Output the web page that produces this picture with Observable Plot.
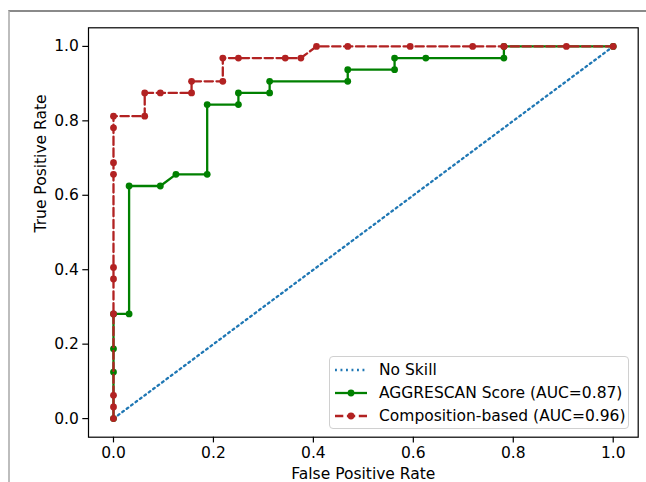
<!DOCTYPE html>
<html>
<head>
<meta charset="utf-8">
<script src="https://cdn.jsdelivr.net/npm/d3@7"></script>
<script src="https://cdn.jsdelivr.net/npm/@observablehq/plot@0.6"></script>
<style>
  html, body { margin: 0; padding: 0; background: white; }
  #wrap { position: relative; width: 646px; height: 482px; overflow: hidden; background: white; }
  #wrap > svg { position: absolute; left: 0; top: 0; }
  #border { position: absolute; left: 8px; top: 10px; width: 700px; height: 600px;
            border-top: 2px solid #8a8a8a; border-left: 2px solid #bdbdbd; pointer-events: none; }
  #legend { position: absolute; left: 329px; top: 356px; width: 298px; height: 71px;
            border: 1px solid #d0d0d0; border-radius: 4px; background: rgba(255,255,255,0.8);
            font-family: "DejaVu Sans", sans-serif; font-size: 15.5px; color: black; }
  .row { position: absolute; left: 5px; height: 22px; display: flex; align-items: center; white-space: nowrap; }
  .row svg { position: static; margin-right: 12px; }
</style>
</head>
<body>
<div id="wrap"><div id="border"></div></div>
<script>
// --- data ---
const noSkillFpr = [0, 1];
const noSkillTpr = [0, 1];

const aggrescanFpr = [0, 0, 0, 0, 0.03125, 0.03125, 0.09375, 0.125, 0.1875, 0.1875, 0.25, 0.25, 0.3125, 0.3125, 0.46875, 0.46875, 0.5625, 0.5625, 0.625, 0.78125, 0.78125, 1];
const aggrescanTpr = [0, 0.125, 0.1875, 0.28125, 0.28125, 0.625, 0.625, 0.65625, 0.65625, 0.84375, 0.84375, 0.875, 0.875, 0.90625, 0.90625, 0.9375, 0.9375, 0.96875, 0.96875, 0.96875, 1, 1];

const compositionFpr = [0, 0, 0, 0, 0, 0, 0, 0, 0, 0, 0.0625, 0.0625, 0.09375, 0.15625, 0.15625, 0.21875, 0.21875, 0.25, 0.34375, 0.375, 0.40625, 0.46875, 0.59375, 0.71875, 0.78125, 0.90625, 1];
const compositionTpr = [0, 0.03125, 0.0625, 0.28125, 0.375, 0.40625, 0.65625, 0.6875, 0.78125, 0.8125, 0.8125, 0.875, 0.875, 0.875, 0.90625, 0.90625, 0.96875, 0.96875, 0.96875, 0.96875, 1, 1, 1, 1, 1, 1, 1];

const xTicks = [0, 0.2, 0.4, 0.6, 0.8, 1.0];
const yTicks = [0, 0.2, 0.4, 0.6, 0.8, 1.0];
const seriesNames = ["No Skill", "AGGRESCAN Score (AUC=0.87)", "Composition-based (AUC=0.96)"];
const xLabel = "False Positive Rate";
const yLabel = "True Positive Rate";

// --- tables ---
const toRows = (xs, ys) => xs.map((x, i) => ({x, y: ys[i]}));
const noSkill = toRows(noSkillFpr, noSkillTpr);
const aggrescan = toRows(aggrescanFpr, aggrescanTpr);
const composition = toRows(compositionFpr, compositionTpr);

const BLUE = "#1f77b4", GREEN = "#008000", RED = "#b22222";
const LW = 2.3;
const FS = 15.5;

const chart = Plot.plot({
  width: 646,
  height: 482,
  marginLeft: 88,
  marginRight: 8.3,
  marginTop: 27.3,
  marginBottom: 45.3,
  style: {fontFamily: "DejaVu Sans, sans-serif", fontSize: FS + "px", color: "black", background: "transparent", overflow: "visible"},
  x: {domain: [-0.05, 1.05]},
  y: {domain: [-0.05, 1.05]},
  marks: [
    Plot.line(noSkill, {x: "x", y: "y", stroke: BLUE, strokeWidth: LW, strokeDasharray: "1.9,3.6"}),
    Plot.line(aggrescan, {x: "x", y: "y", stroke: GREEN, strokeWidth: LW}),
    Plot.dot(aggrescan, {x: "x", y: "y", fill: GREEN, r: 3.4}),
    Plot.line(composition, {x: "x", y: "y", stroke: RED, strokeWidth: LW, strokeDasharray: "8.3,3.6"}),
    Plot.dot(composition, {x: "x", y: "y", fill: RED, r: 3.4}),
    Plot.frame({stroke: "black", strokeWidth: 1.2}),
    Plot.axisX(xTicks, {tickFormat: d => d.toFixed(1), tickSize: 5.7, tickPadding: 4, strokeWidth: 1.2, fontSize: FS, label: null}),
    Plot.axisY(yTicks, {tickFormat: d => d.toFixed(1), tickSize: 5.7, tickPadding: 4, strokeWidth: 1.2, fontSize: FS, label: null}),
    Plot.text([xLabel], {text: d => d, frameAnchor: "bottom", dy: 42, fontSize: FS, lineAnchor: "bottom"}),
    Plot.text([yLabel], {text: d => d, frameAnchor: "left", dx: -43, rotate: -90, fontSize: FS, lineAnchor: "bottom"})
  ]
});

const wrap = document.getElementById("wrap");
wrap.insertBefore(chart, wrap.firstChild);

// --- legend ---
const legend = document.createElement("div");
legend.id = "legend";
const swatches = [
  `<line x1="0" y1="6" x2="32" y2="6" stroke="${BLUE}" stroke-width="${LW}" stroke-dasharray="1.9,3.6"/>`,
  `<line x1="0" y1="6" x2="32" y2="6" stroke="${GREEN}" stroke-width="${LW}"/><circle cx="16" cy="6" r="3.4" fill="${GREEN}"/>`,
  `<line x1="0" y1="6" x2="32" y2="6" stroke="${RED}" stroke-width="${LW}" stroke-dasharray="8.3,3.6"/><circle cx="16" cy="6" r="3.4" fill="${RED}"/>`
];
seriesNames.forEach((name, i) => {
  const row = document.createElement("div");
  row.className = "row";
  row.style.top = (2 + i * 22.8) + "px";
  row.innerHTML = `<svg width="32" height="12">${swatches[i]}</svg><span>${name}</span>`;
  legend.appendChild(row);
});
wrap.appendChild(legend);
</script>
</body>
</html>
